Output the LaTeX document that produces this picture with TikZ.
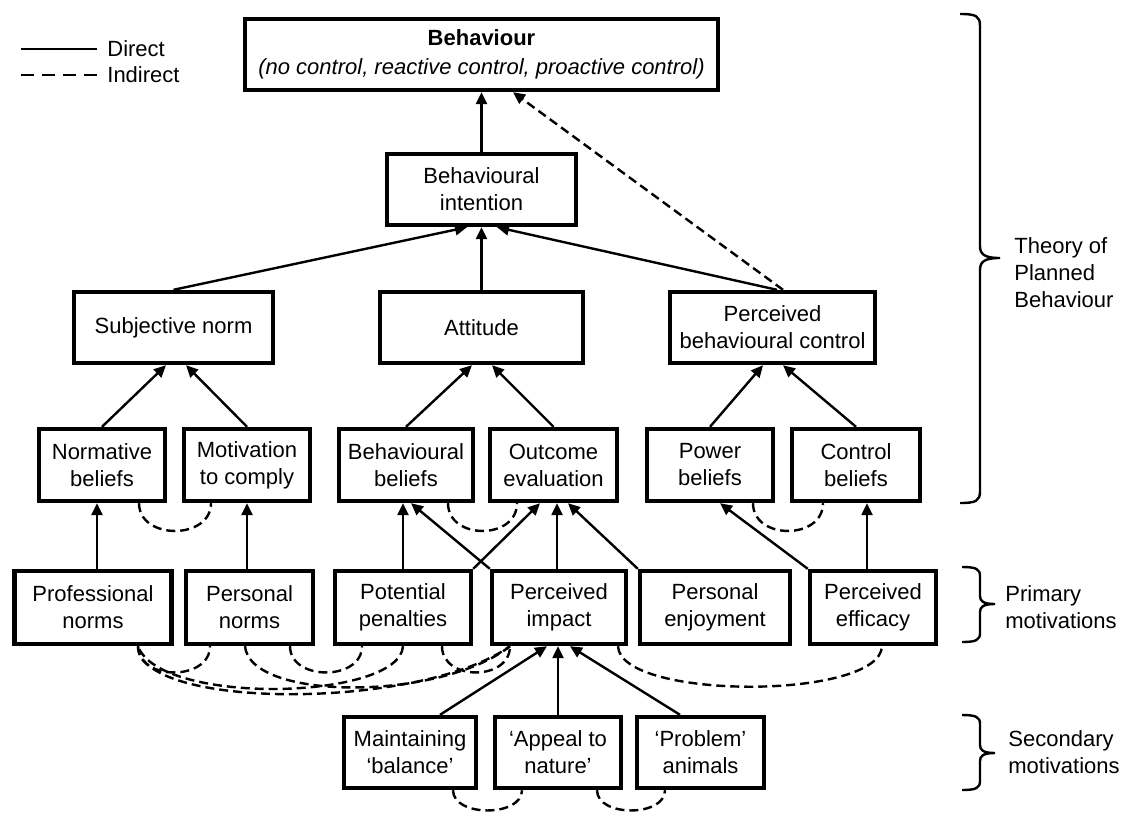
\documentclass[tikz,border=0pt]{standalone}
\usepackage{fontspec}
\setmainfont{Liberation Sans}
\usetikzlibrary{arrows.meta,calc}
\begin{document}
\begin{tikzpicture}[x=0.5pt,y=-0.5pt,
  box/.style={draw, line width=2.2pt, align=center, inner sep=0pt, font=\fontsize{11pt}{13.5pt}\selectfont},
  wh/.style 2 args={minimum width={(#1-4)*0.5pt}, minimum height={(#2-4)*0.5pt}},
  dir/.style={line width=1.2pt, -{Triangle[length=6pt,width=5.5pt]}},
  ind/.style={line width=1.2pt, dash pattern=on 4.5pt off 2.5pt},
  lbl/.style={align=left, inner sep=0pt, font=\fontsize{11pt}{13.5pt}\selectfont},
  brc/.style={line width=1.2pt}]
\useasboundingbox (0,0) rectangle (1123,814);

% nodes
\node[box, wh={477}{75}] (beh) at (481.5,54.5) {\textbf{Behaviour}\\[1pt]\textit{(no control, reactive control, proactive control)}};
\node[box, wh={193}{75}] (bi) at (481.5,189.5) {Behavioural\\intention};
\node[box, wh={203}{75}] (sn) at (173.5,327.5) {Subjective norm};
\node[box, wh={207}{75}] (att) at (481.5,327.5) {Attitude};
\node[box, wh={209}{75}] (pbc) at (772.5,327.5) {Perceived\\behavioural control};
\node[box, wh={130}{76}] (nb) at (102,465) {Normative\\beliefs};
\node[box, wh={130}{76}] (mc) at (247,465) {Motivation\\to comply};
\node[box, wh={138}{76}] (bb) at (406,465) {Behavioural\\beliefs};
\node[box, wh={131}{76}] (oe) at (553.5,465) {Outcome\\evaluation};
\node[box, wh={130}{76}] (pb) at (710,465) {Power\\beliefs};
\node[box, wh={132}{76}] (cb) at (856,465) {Control\\beliefs};
\node[box, wh={161}{77}] (prof) at (93,607.5) {Professional\\norms};
\node[box, wh={131}{77}] (pn) at (249.5,607.5) {Personal\\norms};
\node[box, wh={140}{77}] (pp) at (403,607.5) {Potential\\penalties};
\node[box, wh={138}{77}] (pi) at (559,607.5) {Perceived\\impact};
\node[box, wh={154}{77}] (pe) at (715,607.5) {Personal\\enjoyment};
\node[box, wh={130}{77}] (peff) at (873,607.5) {Perceived\\efficacy};
\node[box, wh={136}{75}] (mb) at (410,752.5) {Maintaining\\‘balance’};
\node[box, wh={130}{75}] (an) at (558,752.5) {‘Appeal to\\nature’};
\node[box, wh={131}{75}] (pa) at (700.5,752.5) {‘Problem’\\animals};

% direct arrows
\draw[dir] (bi.north) -- (beh.south);
\draw[dir] (sn.north) -- ($(bi.south)+(-14.5,0)$);
\draw[dir] (att.north) -- (bi.south);
\draw[dir] ($(pbc.north)+(4.5,0)$) -- ($(bi.south)+(15.5,0)$);
\draw[ind, -{Triangle[length=6pt,width=5.5pt]}] ($(pbc.north)+(10.5,0)$) -- ($(beh.south)+(31.5,0)$);

\draw[dir] (nb.north) -- ($(sn.south)+(-7.5,0)$);
\draw[dir] (mc.north) -- ($(sn.south)+(12.5,0)$);
\draw[dir] (bb.north) -- ($(att.south)+(-9.5,0)$);
\draw[dir] (oe.north) -- ($(att.south)+(10.5,0)$);
\draw[dir] (pb.north) -- ($(pbc.south)+(-9.5,0)$);
\draw[dir] (cb.north) -- ($(pbc.south)+(10.5,0)$);

\draw[dir] ($(prof.north)+(4,0)$) -- ($(nb.south)+(-5,0)$);
\draw[dir] ($(pn.north)+(-2.5,0)$) -- (mc.south);
\draw[dir] (pp.north) -- ($(bb.south)+(-3,0)$);
\draw[dir] (pi.north west) -- ($(bb.south)+(5,0)$);
\draw[dir] (pp.north east) -- ($(oe.south)+(-13.5,0)$);
\draw[dir] ($(pi.north)+(-2,0)$) -- ($(oe.south)+(3.5,0)$);
\draw[dir] (pe.north west) -- ($(oe.south)+(14.5,0)$);
\draw[dir] (peff.north west) -- ($(pb.south)+(10,0)$);
\draw[dir] ($(peff.north)+(-6,0)$) -- ($(cb.south)+(11,0)$);

\draw[dir] ($(mb.north)+(30,0)$) -- ($(pi.south)+(-12,0)$);
\draw[dir] (an.north) -- ($(pi.south)+(-1,0)$);
\draw[dir] ($(pa.north)+(-20.5,0)$) -- ($(pi.south)+(11,0)$);

% indirect arcs, row 4
\draw[ind] ($(nb.south)+(37,0)$) .. controls +(0,37) and +(0,37) .. ($(mc.south)+(-36,0)$);
\draw[ind] ($(bb.south)+(42,0)$) .. controls +(0,37) and +(0,37) .. ($(oe.south)+(-36.5,0)$);
\draw[ind] ($(pb.south)+(43,0)$) .. controls +(0,37) and +(0,37) .. ($(cb.south)+(-33,0)$);

% indirect arcs, row 5
\draw[ind] ($(prof.south)+(45,0)$) .. controls +(0,35) and +(0,35) .. ($(pn.south)+(-39.5,0)$);
\draw[ind] ($(pn.south)+(40.5,0)$) .. controls +(0,35) and +(0,35) .. ($(pp.south)+(-41,0)$);
\draw[ind] ($(pp.south)+(39,0)$) .. controls +(0,35) and +(0,35) .. ($(pi.south)+(-49,0)$);
\draw[ind] ($(prof.south)+(45,0)$) .. controls +(2,64) and +(-90,64) .. ($(pi.south)+(-49,0)$);
\draw[ind] ($(pn.south)+(-4.5,0)$) .. controls +(5,55) and +(-70,55) .. ($(pi.south)+(-49,0)$);
\draw[ind] (pp.south) .. controls +(-3,54) and +(22,60) .. ($(prof.south)+(45,0)$);
\draw[ind] ($(pi.south)+(59,0)$) .. controls +(2,54) and +(-2,54) .. ($(peff.south)+(9,0)$);

% indirect arcs, row 6
\draw[ind] ($(mb.south)+(43,0)$) .. controls +(0,27) and +(0,27) .. ($(an.south)+(-36,0)$);
\draw[ind] ($(an.south)+(39,0)$) .. controls +(0,27) and +(0,27) .. ($(pa.south)+(-35.5,0)$);

% legend
\coordinate (ls1) at (21,49);
\node[lbl, anchor=west] (ldir) at (107,49) {Direct};
\draw[line width=1.2pt] (ls1) -- ($(ldir.west)+(-10,0)$);
\coordinate (ls2) at (21,75);
\node[lbl, anchor=west] (lind) at (107,75) {Indirect};
\draw[line width=1.2pt, dash pattern=on 6.5pt off 4pt] (ls2) -- ($(lind.west)+(-10,0)$);

% braces
\draw[brc] (960,14) .. controls (976,14) and (980,16) .. (980,26) -- (980,246) .. controls (980,254) and (984,258) .. (1000,258) .. controls (984,258) and (980,262) .. (980,270) -- (980,491) .. controls (980,501) and (976,503) .. (960,503);
\node[lbl, anchor=west] (tpb) at (1014,273) {Theory of\\Planned\\Behaviour};

\draw[brc] (962,567) .. controls (976,567) and (980,569) .. (980,576) -- (980,596) .. controls (980,601) and (983,604) .. (995,604) .. controls (983,604) and (980,607) .. (980,612) -- (980,633) .. controls (980,640) and (976,642) .. (962,642);
\node[lbl, anchor=west] (prim) at (1005,607) {Primary\\motivations};

\draw[brc] (962,715) .. controls (976,715) and (980,717) .. (980,724) -- (980,745) .. controls (980,750) and (983,753) .. (995,753) .. controls (983,753) and (980,756) .. (980,761) -- (980,781) .. controls (980,788) and (976,790) .. (962,790);
\node[lbl, anchor=west] (sec) at (1008,752) {Secondary\\motivations};
\end{tikzpicture}
\end{document}
